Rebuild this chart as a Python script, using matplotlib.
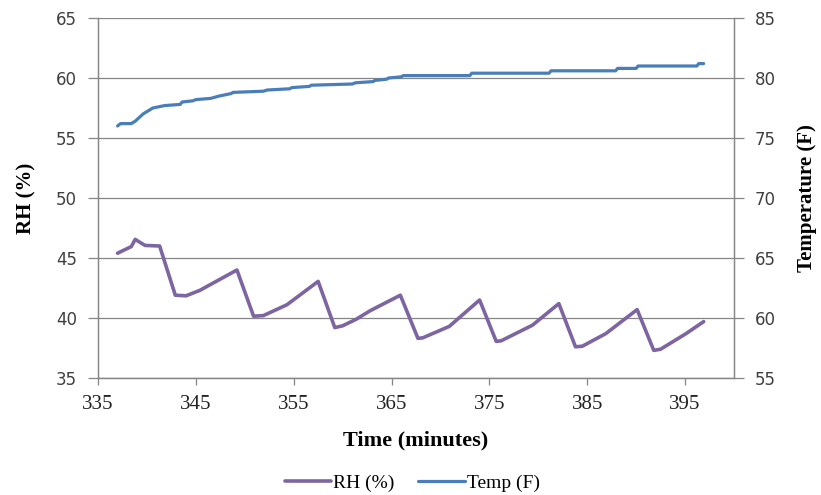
import matplotlib
matplotlib.use("Agg")
import matplotlib.pyplot as plt

# Time (minutes) and readings
rh_time = [337.0, 338.4, 338.8, 339.8, 341.3, 342.9, 344.0, 345.4, 349.2, 350.9,
           351.9, 354.3, 357.5, 359.2, 360.0, 361.4, 362.8, 365.9, 367.7, 368.2,
           370.9, 374.0, 375.7, 376.2, 379.4, 382.1, 383.8, 384.5, 386.9, 390.1,
           391.8, 392.5, 395.1, 396.9]
rh_values = [45.4, 45.95, 46.55, 46.05, 46.0, 41.9, 41.85, 42.3, 44.0, 40.15,
             40.2, 41.1, 43.05, 39.2, 39.35, 39.9, 40.6, 41.9, 38.3, 38.35,
             39.3, 41.5, 38.05, 38.1, 39.4, 41.2, 37.6, 37.65, 38.7, 40.7,
             37.3, 37.4, 38.7, 39.7]

temp_time = [337.0, 337.3, 338.4, 338.8, 339.6, 340.6, 341.8, 343.4, 343.6, 344.7,
             345.0, 346.5, 347.4, 348.6, 348.8, 351.9, 352.3, 354.6, 354.8, 356.6,
             356.8, 361.0, 361.3, 363.1, 363.3, 364.5, 364.7, 366.0, 366.2, 373.0,
             373.2, 381.1, 381.3, 387.9, 388.1, 390.0, 390.2, 396.2, 396.4, 396.9]
temp_values = [76.0, 76.2, 76.2, 76.4, 77.0, 77.5, 77.7, 77.8, 78.0, 78.1,
               78.2, 78.3, 78.5, 78.7, 78.8, 78.9, 79.0, 79.1, 79.2, 79.3,
               79.4, 79.5, 79.6, 79.7, 79.8, 79.9, 80.0, 80.1, 80.2, 80.2,
               80.4, 80.4, 80.6, 80.6, 80.8, 80.8, 81.0, 81.0, 81.2, 81.2]

x_ticks = [335, 345, 355, 365, 375, 385, 395]
rh_ticks = [35, 40, 45, 50, 55, 60, 65]
temp_ticks = [55, 60, 65, 70, 75, 80, 85]

grid_gray = "#868686"
serif = "Liberation Serif"

fig = plt.figure(figsize=(8.21, 4.95), dpi=100)
ax = fig.add_axes([98 / 821, 1 - 378 / 495, (734 - 98) / 821, 360 / 495])
ax2 = ax.twinx()

# Lines
ax.plot(rh_time, rh_values, color="#7D65A1", linewidth=2.6, label="RH (%)",
        solid_joinstyle="round", solid_capstyle="round")
ax2.plot(temp_time, temp_values, color="#4A7EBB", linewidth=2.3, label="Temp (F)",
         solid_joinstyle="round", solid_capstyle="round")

# Axes ranges and ticks
ax.set_xlim(335, 400)
ax.set_ylim(35, 65)
ax2.set_ylim(55, 85)
ax.set_xticks(x_ticks)
ax.set_yticks(rh_ticks)
ax2.set_yticks(temp_ticks)

ax.yaxis.grid(True, color=grid_gray, linewidth=0.9)
ax.set_axisbelow(True)

for a in (ax, ax2):
    a.spines["top"].set_visible(False)
    for s in ("left", "right", "bottom"):
        a.spines[s].set_color(grid_gray)
        a.spines[s].set_linewidth(0.9)

ax.tick_params(axis="y", direction="out", length=7, width=0.9, color=grid_gray,
               labelsize=12, labelcolor="#404040", pad=8)
ax2.tick_params(axis="y", direction="out", length=7, width=0.9, color=grid_gray,
                labelsize=12, labelcolor="#404040", pad=8)
ax.tick_params(axis="x", direction="out", length=5, width=0.9, color=grid_gray,
               labelsize=15, labelcolor="#222222", pad=7)
for lbl in ax.get_xticklabels():
    lbl.set_fontfamily(serif)

ax.set_xlabel("Time (minutes)", fontfamily=serif, fontsize=16, fontweight="bold",
              labelpad=12)
ax.set_ylabel("RH (%)", fontfamily=serif, fontsize=15, fontweight="bold", labelpad=14)
ax2.set_ylabel("Temperature (F)", fontfamily=serif, fontsize=15, fontweight="bold",
               labelpad=15)

# Legend at the bottom
handles = ax.get_lines() + ax2.get_lines()
fig.legend(handles, [h.get_label() for h in handles], loc="center",
           bbox_to_anchor=(0.502, 1 - 483 / 495), ncol=2, frameon=False,
           prop={"family": serif, "size": 14}, handlelength=2.4,
           handletextpad=0.1, columnspacing=1.2)

fig.savefig("out.png", dpi=100)
